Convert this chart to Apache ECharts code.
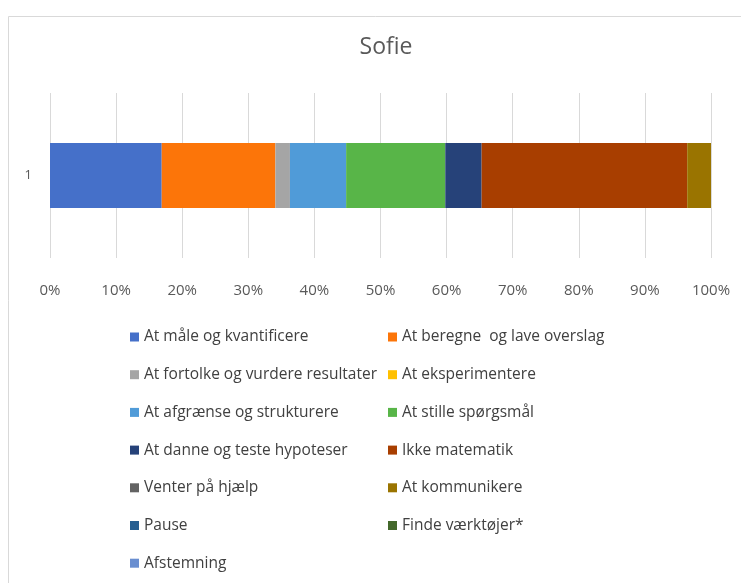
<!DOCTYPE html>
<html>
<head>
<meta charset="utf-8">
<script src="https://cdn.jsdelivr.net/npm/echarts@6/dist/echarts.min.js"></script>
<style>
html,body{margin:0;padding:0;background:#fff;}
#chart{width:741px;height:583px;}
</style>
</head>
<body>
<div id="chart"></div>
<script>
// Activity shares (percent of observed time) for one pupil
const categories = ['1'];
const seriesNames = [
  'At måle og kvantificere',
  'At beregne  og lave overslag',
  'At fortolke og vurdere resultater',
  'At eksperimentere',
  'At afgrænse og strukturere',
  'At stille spørgsmål',
  'At danne og teste hypoteser',
  'Ikke matematik',
  'Venter på hjælp',
  'At kommunikere',
  'Pause',
  'Finde værktøjer*',
  'Afstemning'
];
const seriesValues = [16.9, 17.2, 2.2, 0, 8.5, 15.0, 5.5, 31.1, 0, 3.6, 0, 0, 0];
const seriesColors = [
  '#4570C9', '#FC7509', '#A5A5A5', '#FFC000', '#509BD8', '#58B548',
  '#264279', '#A83E00', '#636363', '#9A7400', '#255E91', '#43682B', '#698ED0'
];
const tickLabels = ['0%','10%','20%','30%','40%','50%','60%','70%','80%','90%','100%'];

const font = '"Open Sans", "Noto Sans", sans-serif';
const chart = echarts.init(document.getElementById('chart'));

const series = seriesNames.map((name, i) => ({
  name: name,
  type: 'bar',
  stack: 'total',
  barWidth: 65,
  itemStyle: { color: seriesColors[i] },
  data: [seriesValues[i]]
}));

const legendText = { color: '#404040', fontSize: 15.5, fontFamily: font, lineHeight: 16 };
const leftItems = seriesNames.filter((_, i) => i % 2 === 0);
const rightItems = seriesNames.filter((_, i) => i % 2 === 1);

chart.setOption({
  animation: false,
  backgroundColor: '#fff',
  title: {
    text: 'Sofie',
    left: 381,
    textAlign: 'center',
    top: 31,
    textStyle: { color: '#595959', fontSize: 23, fontWeight: 'normal', fontFamily: font }
  },
  graphic: [{
    type: 'rect',
    shape: { x: 8.5, y: 16.5, width: 760, height: 600 },
    style: { fill: 'none', stroke: '#D9D9D9', lineWidth: 1 },
    silent: true,
    z: -1
  }],
  legend: [
    {
      data: leftItems, orient: 'vertical', left: 125, top: 324,
      itemWidth: 9, itemHeight: 9, itemGap: 21.7, icon: 'rect',
      textStyle: legendText, selectedMode: false
    },
    {
      data: rightItems, orient: 'vertical', left: 383, top: 324,
      itemWidth: 9, itemHeight: 9, itemGap: 21.7, icon: 'rect',
      textStyle: legendText, selectedMode: false
    }
  ],
  grid: { left: 50, right: 30, top: 93, bottom: 325, containLabel: false },
  xAxis: {
    type: 'value',
    min: 0, max: 100, interval: 10,
    axisLine: { show: false },
    axisTick: { show: false },
    splitLine: { show: true, lineStyle: { color: '#D9D9D9', width: 1 } },
    axisLabel: {
      margin: 25,
      color: '#595959', fontSize: 15, fontFamily: font,
      formatter: v => tickLabels[Math.round(v / 10)]
    }
  },
  yAxis: {
    type: 'category',
    data: categories,
    axisLine: { show: false },
    axisTick: { show: false },
    axisLabel: { margin: 18, color: '#595959', fontSize: 13, fontFamily: font }
  },
  series: series
});
</script>
</body>
</html>
